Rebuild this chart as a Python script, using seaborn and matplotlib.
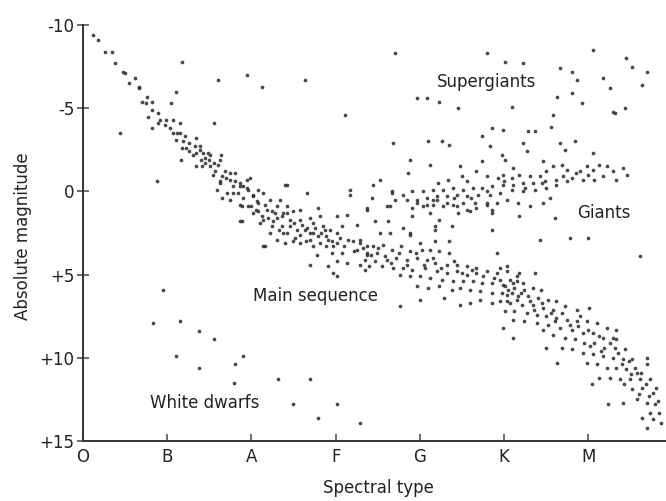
import matplotlib
matplotlib.use("Agg")
import matplotlib.pyplot as plt
import seaborn as sns
import pandas as pd

# Spectral classes (x positions 0..6) and magnitude ticks
spectral_classes = ["O", "B", "A", "F", "G", "K", "M"]
magnitude_ticks = [-10, -5, 0, 5, 10, 15]
magnitude_labels = ["-10", "-5", "0", "+5", "+10", "+15"]

# (spectral position, absolute magnitude)
main_sequence = [
    (0.12, -9.4), (0.18, -9.1), (0.26, -8.4), (0.34, -8.4), (0.38, -7.7), (0.47, -7.2),
    (0.50, -7.1), (0.62, -6.8), (0.55, -6.5), (0.66, -6.3), (0.66, -6.2), (0.76, -5.7),
    (0.70, -5.4), (0.75, -5.3), (0.82, -5.4), (0.82, -4.9), (0.89, -4.7), (0.77, -4.5),
    (0.91, -4.3), (0.98, -4.3), (1.07, -4.3), (1.15, -4.1), (0.89, -4.1), (0.97, -4.0),
    (0.82, -3.8), (1.03, -3.8), (1.07, -3.5), (1.15, -3.5), (1.21, -3.3), (1.34, -3.2),
    (1.10, -3.1), (1.19, -3.0), (1.26, -2.9), (1.33, -2.7), (1.39, -2.7), (1.17, -2.6),
    (1.26, -2.4), (1.34, -2.3), (1.42, -2.3), (1.48, -2.3), (1.16, -1.9), (1.40, -1.9),
    (1.49, -1.9), (1.64, -2.2), (1.63, -1.9), (1.34, -1.5), (1.41, -1.5), (1.51, -1.5),
    (1.39, -2.5), (1.60, -1.6), (1.54, -1.0), (1.63, -0.6), (1.59, -0.1), (1.65, 0.4),
    (1.74, -1.1), (1.80, -0.6), (1.86, -0.3), (1.95, -0.7), (1.96, -0.1), (1.78, 0.1),
    (1.74, 0.5), (2.02, 0.3), (1.89, 0.9), (2.08, 0.7), (2.14, 0.1), (2.02, 1.3),
    (2.18, 1.1), (2.30, 0.9), (2.14, 1.7), (2.25, 1.8), (2.36, 1.5), (2.42, 1.3),
    (2.46, 2.1), (2.37, 2.5), (2.54, 2.3), (2.57, 1.7), (2.63, 2.3), (2.73, 2.5),
    (2.81, 1.5), (2.69, 2.9), (2.81, 3.1), (2.91, 2.9), (2.97, 3.3), (2.49, 3.0),
    (2.22, 2.5), (2.30, 2.9), (2.87, 2.3),
    (1.51, -2.2), (1.45, -1.7), (1.57, -1.2), (1.68, -1.2), (1.80, -1.1), (1.65, -0.9),
    (1.74, -0.7), (1.98, -0.8), (1.86, -0.5), (1.63, -0.5), (1.78, -0.3), (1.95, -0.2),
    (2.08, -0.1), (1.71, 0.1), (1.84, 0.1), (2.02, 0.2), (1.90, 0.4), (2.06, 0.6),
    (2.22, 0.5), (2.16, 0.8), (2.34, 0.5), (1.86, 0.8), (1.96, 0.9), (2.42, 0.9),
    (2.08, 1.2), (2.24, 1.2), (2.37, 1.3), (2.49, 1.2), (2.57, 1.1), (2.12, 1.5),
    (2.30, 1.6), (2.46, 1.7), (2.69, 1.6), (2.79, 1.0), (1.89, 1.8), (2.24, 2.1),
    (2.36, 2.1), (2.66, 2.2), (2.73, 1.9), (2.85, 2.1), (2.42, 2.5), (2.57, 2.6),
    (2.69, 2.5), (2.79, 2.7), (2.89, 2.7), (3.01, 2.5), (3.02, 1.5), (3.13, 1.4),
    (3.37, 1.0), (3.08, 2.1), (3.25, 2.0), (2.89, 3.3), (3.01, 3.1), (3.14, 2.9),
    (3.29, 2.9), (3.37, 3.3), (2.73, 3.3), (2.57, 3.1), (2.40, 3.1), (2.16, 3.3),
    (2.78, 3.8), (2.95, 3.7), (3.08, 3.7), (3.25, 3.5), (3.37, 3.8), (2.69, 4.4),
    (2.91, 4.5), (3.01, 4.2), (3.13, 4.3), (3.29, 4.4), (2.97, 4.9), (3.35, 4.7),
    (3.02, 5.1),
    (3.29, 3.1), (3.44, 3.3), (3.56, 3.2), (3.37, 3.7), (3.49, 3.7), (3.67, 3.5),
    (3.78, 3.3), (3.88, 3.6), (4.02, 3.5), (4.12, 3.5), (4.23, 3.6), (4.35, 3.7),
    (3.35, 4.1), (3.46, 4.2), (3.61, 4.1), (3.72, 4.0), (3.84, 4.1), (3.96, 4.0),
    (4.08, 4.1), (4.18, 4.3), (4.32, 4.4), (4.44, 4.4), (4.56, 4.5), (4.67, 4.6),
    (3.40, 4.5), (3.55, 4.5), (3.68, 4.6), (3.80, 4.6), (3.91, 4.7), (4.06, 4.6),
    (4.20, 4.8), (4.32, 4.9), (4.44, 4.8), (4.56, 5.0), (4.67, 4.9), (4.80, 4.8),
    (4.91, 4.9), (5.03, 4.8), (5.15, 5.1), (3.76, 5.0), (3.88, 5.1), (4.00, 5.1),
    (4.12, 5.2), (4.26, 5.3), (4.39, 5.4), (4.51, 5.4), (4.63, 5.4), (4.74, 5.5),
    (4.86, 5.5), (4.98, 5.6), (5.10, 5.5), (3.97, 5.7), (4.09, 5.8), (4.23, 5.7),
    (4.38, 5.9), (4.47, 5.8), (4.59, 5.9), (4.71, 6.0), (4.85, 6.1), (4.97, 6.1),
    (5.09, 6.1), (5.15, 6.5), (4.00, 6.5), (4.47, 6.8), (4.59, 6.7), (4.71, 6.5),
    (4.86, 6.7), (5.03, 6.6), (3.76, 6.9), (4.29, 6.4), (4.91, 3.7), (5.03, 4.5),
    (3.52, 2.5), (3.64, 2.5), (3.80, 2.2), (3.88, 2.5), (4.18, 3.0), (4.00, 3.1),
    (4.35, 3.0),
    (5.18, 4.9), (5.36, 4.9), (4.95, 5.3), (5.07, 5.3), (5.15, 5.4), (5.22, 5.5),
    (5.01, 5.7), (5.12, 5.8), (5.24, 5.9), (5.34, 5.8), (5.44, 5.9), (5.03, 6.2),
    (5.16, 6.3), (5.28, 6.3), (5.40, 6.4), (5.52, 6.5), (5.62, 6.6), (5.72, 6.9),
    (5.86, 7.1), (6.01, 7.0), (4.95, 6.6), (5.07, 6.7), (5.21, 6.8), (5.34, 6.8),
    (5.46, 7.0), (5.58, 7.1), (5.01, 7.2), (5.12, 7.2), (5.27, 7.3), (5.39, 7.4),
    (5.50, 7.5), (5.62, 7.6), (5.74, 7.7), (5.86, 7.8), (5.98, 7.8), (6.10, 7.9),
    (6.22, 8.2), (6.33, 8.3), (5.10, 7.7), (5.24, 7.8), (5.39, 7.9), (5.52, 8.0),
    (5.66, 8.2), (5.80, 8.3), (5.93, 8.5), (6.05, 8.5), (6.17, 8.8), (6.29, 8.8),
    (4.98, 8.2), (5.10, 8.8), (5.46, 8.3), (5.58, 8.6), (5.72, 8.8), (5.84, 8.9),
    (5.95, 9.1), (6.07, 9.1), (6.19, 9.4), (6.31, 9.4), (6.43, 9.5), (5.50, 9.4),
    (5.69, 9.4), (5.63, 10.3), (5.81, 9.5), (5.93, 9.7), (6.05, 9.8), (6.17, 9.9),
    (6.29, 10.0), (6.41, 10.1), (6.52, 10.1), (5.98, 10.3), (6.10, 10.4), (6.22, 10.6),
    (6.33, 10.6), (6.45, 10.7), (6.57, 10.9), (6.70, 10.0), (6.69, 10.4), (6.04, 11.6),
    (6.13, 11.2), (6.25, 11.2), (6.37, 11.3), (6.49, 11.3), (6.61, 11.3), (6.73, 11.3),
    (6.23, 12.8), (6.41, 12.7), (6.52, 11.9), (6.64, 11.8), (6.76, 12.1), (6.57, 12.5),
    (6.69, 12.7), (6.79, 12.8), (6.73, 13.3), (6.64, 13.6), (6.76, 13.7), (6.69, 14.2),
    (6.84, 13.3), (6.33, 8.9),
    (2.00, 0.9), (2.10, 1.9), (2.28, 1.3), (2.33, 2.3), (2.50, 1.9), (2.52, 2.8),
    (2.60, 2.0), (2.65, 3.0), (2.75, 2.2), (2.83, 2.5), (2.93, 2.3), (2.95, 3.0),
    (3.05, 2.8), (3.10, 3.3), (3.20, 3.0), (3.22, 3.6), (3.32, 3.4), (3.42, 3.8),
    (3.50, 3.4), (3.58, 3.9), (3.65, 4.3), (3.75, 3.7), (3.85, 4.4), (3.95, 3.7),
    (4.05, 4.4), (4.15, 4.0), (4.25, 4.6), (4.40, 4.2), (4.50, 4.9), (4.62, 4.7),
    (4.75, 5.1), (4.88, 5.2), (4.95, 4.6), (5.05, 5.9), (5.20, 6.1), (5.30, 6.6),
    (5.35, 7.1), (5.45, 6.7), (5.55, 7.3), (5.60, 7.8), (5.68, 7.3), (5.78, 8.0),
    (5.88, 8.1), (5.90, 7.5), (6.00, 8.3), (6.02, 9.3), (6.12, 8.7), (6.15, 9.6),
    (6.25, 9.1), (6.35, 9.7), (6.40, 10.4), (6.48, 10.2), (6.55, 10.6), (6.62, 10.9),
    (6.50, 11.0), (6.42, 11.6), (6.68, 11.6), (6.80, 11.8), (6.60, 12.2), (6.72, 12.3),
    (6.83, 12.6), (6.86, 13.9), (1.30, -2.2), (1.45, -2.0), (1.55, -1.7), (1.70, -0.8),
    (1.90, -0.3), (2.05, 1.1), (2.20, 1.6), (1.22, -2.6), (1.12, -3.5),
]

giants = [
    (3.68, -2.9), (4.09, -3.0), (4.26, -3.0), (4.35, -2.8), (4.83, -2.7), (5.22, -2.9),
    (4.97, -2.2), (5.01, -1.9), (4.74, -3.3), (5.72, -2.5), (5.84, -3.0), (5.66, -2.9),
    (6.05, -2.3), (5.27, -2.4), (3.88, -1.9), (4.12, -1.6), (4.47, -1.5), (4.74, -1.8),
    (5.10, -1.4), (3.86, -1.1), (4.67, -1.2), (4.50, -0.9), (4.79, -0.9), (4.21, -0.5),
    (4.33, -0.7), (4.56, -0.6), (4.92, -0.8), (4.98, -1.0), (5.09, -0.8), (5.18, -1.0),
    (5.30, -0.9), (5.42, -0.9), (5.50, -1.2), (5.46, -1.8), (5.58, -1.5), (5.68, -1.6),
    (5.75, -1.3), (5.81, -0.8), (5.90, -1.2), (5.98, -1.5), (6.05, -1.3), (6.13, -1.6),
    (6.22, -1.5), (6.29, -1.2), (6.41, -1.4), (6.46, -1.0), (6.33, -0.7), (6.17, -0.9),
    (6.07, -0.7), (5.93, -0.7), (5.74, -0.6), (5.62, -0.7), (5.48, -0.6), (5.34, -0.5),
    (5.22, -0.5), (5.10, -0.4), (4.98, -0.4), (4.86, -0.3), (4.74, -0.2), (4.63, -0.2),
    (4.51, -0.1), (4.39, -0.2), (4.27, -0.1), (4.15, -0.1), (4.03, 0.0), (3.91, 0.0),
    (3.80, 0.2), (3.67, 0.0), (3.61, 0.9), (3.70, 0.5), (3.84, 0.5), (3.96, 0.5),
    (4.08, 0.4), (4.20, 0.3), (4.32, 0.3), (4.44, 0.2), (4.56, 0.3), (4.69, 0.2),
    (4.83, 0.2), (4.95, 0.1), (5.09, -0.1), (5.22, 0.0), (5.36, -0.1), (5.50, -0.2),
    (5.62, -0.4), (5.54, 0.4), (5.46, 0.7), (5.30, 0.9), (5.16, 0.7), (5.03, 0.5),
    (4.91, 0.7), (4.79, 0.7), (4.65, 0.7), (4.51, 0.7), (4.39, 0.8), (4.27, 0.9),
    (4.15, 0.8), (4.03, 0.9), (3.91, 1.0), (4.45, 1.3), (4.59, 1.2), (4.86, 1.1),
    (5.18, 1.5), (5.60, 1.6), (4.18, 2.1), (3.52, -0.7), (3.96, 0.7), (4.08, 0.8),
    (4.20, 0.5), (4.32, 0.7), (4.44, 0.9), (4.56, 1.1), (4.67, 1.0), (4.79, 0.8),
    (4.86, 1.3), (3.90, 1.5), (4.38, 2.1), (4.12, 1.3), (4.23, 1.7), (3.44, -0.4),
    (3.43, 0.4), (3.67, 0.1), (3.37, 1.1), (3.64, 0.9), (3.62, 1.8), (3.46, 1.8),
    (3.88, 2.6), (4.18, 2.3), (4.85, 2.3), (5.42, 2.9), (5.78, 2.8), (5.99, 2.8),
    (3.17, -0.1), (3.17, 0.2), (6.61, 3.9),
    (5.00, -0.6), (5.25, -0.2), (5.45, -0.5), (5.70, -0.9), (5.85, -1.1), (6.00, -1.0),
    (4.80, 0.0), (4.60, 0.4), (4.40, 0.4), (4.15, 0.5),
]

supergiants = [
    (3.70, -8.3), (4.80, -8.3), (5.01, -7.8), (5.22, -7.7), (5.66, -7.4), (5.81, -7.2),
    (5.86, -6.7), (6.05, -8.5), (6.17, -6.8), (6.25, -6.2), (6.45, -8.0), (6.52, -7.5),
    (6.70, -7.2), (6.64, -6.4), (5.63, -5.7), (5.81, -5.9), (5.92, -5.3), (3.97, -5.6),
    (4.08, -5.6), (4.23, -5.4), (4.45, -5.0), (5.09, -5.1), (6.29, -4.8), (6.43, -5.0),
    (3.11, -4.6), (5.58, -4.6), (6.31, -4.7), (4.86, -3.8), (4.98, -3.7), (5.28, -3.6),
    (5.36, -3.6), (5.56, -3.9), (1.17, -7.8), (1.60, -6.7), (1.95, -7.0), (2.12, -6.3),
    (2.63, -6.7), (1.10, -6.0), (1.04, -5.3), (1.55, -4.1), (0.44, -3.5), (0.88, -0.6),
    (2.40, -0.4), (2.66, 0.1), (1.86, 1.8), (2.14, 3.3), (2.42, -0.4),
]

white_dwarfs = [
    (0.95, 5.9), (0.83, 7.9), (1.15, 7.8), (1.38, 8.4), (1.55, 8.9), (1.10, 9.9),
    (1.90, 9.9), (1.80, 10.4), (1.38, 10.6), (1.79, 11.5), (2.31, 11.3), (2.69, 11.3),
    (2.49, 12.8), (3.01, 12.8), (2.79, 13.6), (3.29, 13.9),
]

groups = {
    "Main sequence": main_sequence,
    "Giants": giants,
    "Supergiants": supergiants,
    "White dwarfs": white_dwarfs,
}
rows = []
for name, pts in groups.items():
    for sx, mag in pts:
        rows.append({"spectral": sx, "magnitude": mag, "group": name})
df = pd.DataFrame(rows)

sns.set_theme(style="white")
plt.rcParams["font.family"] = ["DejaVu Sans"]

fig = plt.figure(figsize=(6.66, 5.01), dpi=100)
ax = fig.add_axes([83 / 666, 60 / 501, 583 / 666, 416 / 501])

sns.scatterplot(data=df, x="spectral", y="magnitude", color="#2a2a2a", s=7,
                linewidth=0, alpha=0.85, legend=False, ax=ax)

ax.set_xlim(0, 6.92)
ax.set_ylim(15, -10)
ax.set_xticks(range(len(spectral_classes)))
ax.set_xticklabels(spectral_classes)
ax.set_yticks(magnitude_ticks)
ax.set_yticklabels(magnitude_labels)

for side in ["top", "right"]:
    ax.spines[side].set_visible(False)
for side in ["left", "bottom"]:
    ax.spines[side].set_color("#333333")
    ax.spines[side].set_linewidth(1.4)

fs = 12
ax.tick_params(axis="x", direction="in", length=5, width=1.2, color="#555555",
               labelsize=fs, pad=5, labelcolor="#222222")
ax.tick_params(axis="y", direction="inout", length=8, width=1.2, color="#555555",
               labelsize=fs, pad=2, labelcolor="#222222")
ax.tick_params(left=True, bottom=True)

ax.set_xlabel("Spectral type", fontsize=fs, color="#222222")
ax.set_ylabel("Absolute magnitude", fontsize=fs, color="#222222")
ax.xaxis.set_label_coords(0.506, -0.092)
ax.yaxis.set_label_coords(-0.088, 0.493)

txt = dict(fontsize=fs, color="#222222", ha="center", va="center")
ax.text(4.79, -6.6, "Supergiants", **txt)
ax.text(6.18, 1.3, "Giants", **txt)
ax.text(2.76, 6.3, "Main sequence", **txt)
ax.text(1.45, 12.7, "White dwarfs", **txt)

fig.savefig("out.png", dpi=100)
